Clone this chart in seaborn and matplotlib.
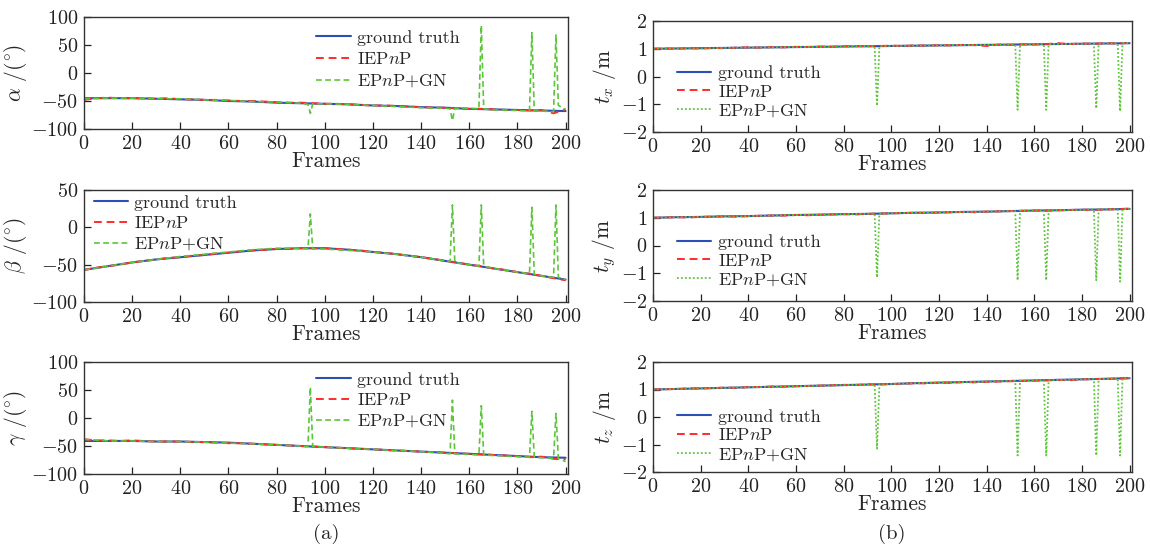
import matplotlib
matplotlib.use("Agg")
import matplotlib.pyplot as plt
import seaborn as sns

# ---------------- data ----------------
gt_frames = [0, 10, 20, 30, 40, 50, 60, 70, 80, 90, 100, 110, 120, 130, 140, 150, 160, 170, 180, 190, 200]
iep_frames = [0, 5, 10, 15, 20, 25, 30, 35, 40, 45, 50, 55, 60, 65, 70, 75, 80, 85, 90, 95, 100,
              105, 110, 115, 120, 125, 130, 135, 140, 145, 150, 155, 160, 165, 170, 175, 180, 185, 190, 195, 200]
gn_frames = [0, 10, 20, 30, 40, 50, 60, 70, 80, 90, 93, 94, 95, 100, 110, 120, 130, 140, 150,
             152, 153, 154, 160, 164, 165, 166, 170, 180, 185, 186, 187, 190, 195, 196, 197, 200]

alpha_gt = [-45, -45, -45, -46, -47, -48, -50, -51, -53, -54, -55, -56, -58, -59, -61, -62, -64, -65, -66, -67, -68]
alpha_iep = [-48, -45, -44, -45, -45, -45, -46, -45, -47, -47, -48, -48, -49, -50, -50, -51, -52, -53, -53, -54, -55,
             -55, -56, -57, -58, -58, -59, -60, -61, -62, -62, -63, -64, -64, -65, -66, -66, -67, -66, -72, -65]
alpha_gn = [-46, -45, -45, -46, -46, -48, -49, -51, -52, -54, -56, -72, -55, -55, -56, -58, -60, -62, -63,
            -64, -85, -63, -63, -64, 85, -64, -66, -67, -68, 72, -68, -68, -69, 68, -58, -65]

beta_gt = [-57, -52, -47, -43, -40, -37, -34, -31, -29, -28, -28, -30, -33, -36, -40, -45, -50, -55, -60, -65, -70]
beta_iep = [-57, -54, -52, -50, -47, -45, -43, -41, -40, -38, -37, -35, -34, -32, -31, -30, -29, -29, -28, -28, -28,
            -29, -30, -31, -33, -34, -36, -38, -40, -42, -45, -47, -50, -52, -55, -57, -60, -62, -65, -68, -71]
beta_gn = [-57, -52, -47, -43, -39, -36, -33, -30, -28, -28, -29, 18, -29, -29, -31, -33, -36, -40, -45,
           -46, 30, -47, -50, -52, 30, -52, -55, -60, -62, 27, -63, -65, -67, 30, -67, -70]

gamma_gt = [-41, -41, -41, -42, -42, -43, -44, -46, -48, -50, -52, -54, -56, -58, -60, -62, -64, -66, -68, -70, -71]
gamma_iep = [-38, -40, -40, -41, -40, -41, -42, -42, -42, -43, -43, -44, -45, -45, -46, -47, -48, -49, -50, -51, -52,
             -53, -54, -55, -56, -57, -58, -59, -60, -61, -62, -63, -64, -65, -66, -67, -68, -70, -69, -73, -74]
gamma_gn = [-38, -41, -41, -42, -42, -43, -45, -46, -48, -50, -51, 55, -51, -52, -54, -56, -58, -60, -63,
            -64, 32, -64, -65, -66, 22, -66, -67, -69, -70, 12, -70, -71, -72, 8, -72, -78]

tx_gt = [1.00, 1.01, 1.02, 1.03, 1.04, 1.05, 1.06, 1.07, 1.08, 1.09, 1.10, 1.11, 1.12, 1.13, 1.14, 1.15, 1.16, 1.17, 1.18, 1.19, 1.20]
tx_iep = [1.00, 1.01, 1.00, 1.02, 1.01, 1.03, 1.02, 1.04, 1.05, 1.04, 1.06, 1.05, 1.07, 1.06, 1.08, 1.07, 1.09, 1.10, 1.09, 1.10, 1.11,
          1.10, 1.12, 1.11, 1.13, 1.12, 1.14, 1.13, 1.10, 1.15, 1.14, 1.16, 1.15, 1.17, 1.20, 1.17, 1.19, 1.18, 1.20, 1.19, 1.21]
tx_gn = [1.00, 1.02, 1.01, 1.03, 1.04, 1.05, 1.06, 1.07, 1.08, 1.09, 1.09, -1.05, 1.09, 1.10, 1.11, 1.12, 1.13, 1.14, 1.15,
         1.15, -1.20, 1.15, 1.16, 1.16, -1.20, 1.17, 1.17, 1.18, 1.19, -1.15, 1.19, 1.19, 1.20, -1.25, 1.20, 1.21]

ty_gt = [1.00, 1.02, 1.03, 1.05, 1.06, 1.08, 1.10, 1.11, 1.13, 1.14, 1.16, 1.18, 1.19, 1.21, 1.22, 1.24, 1.26, 1.27, 1.29, 1.30, 1.32]
ty_iep = [1.00, 1.01, 1.02, 1.01, 1.03, 1.04, 1.05, 1.04, 1.06, 1.07, 1.08, 1.08, 1.10, 1.09, 1.11, 1.12, 1.13, 1.12, 1.14, 1.15, 1.16,
          1.17, 1.18, 1.17, 1.19, 1.20, 1.21, 1.20, 1.22, 1.23, 1.24, 1.25, 1.26, 1.25, 1.27, 1.28, 1.29, 1.28, 1.30, 1.31, 1.33]
ty_gn = [1.00, 1.02, 1.03, 1.05, 1.06, 1.08, 1.10, 1.11, 1.13, 1.14, 1.15, -1.15, 1.15, 1.16, 1.18, 1.19, 1.21, 1.22, 1.24,
         1.24, -1.25, 1.25, 1.26, 1.26, -1.25, 1.27, 1.27, 1.29, 1.30, -1.25, 1.30, 1.30, 1.31, -1.30, 1.31, 1.32]

tz_gt = [1.00, 1.02, 1.04, 1.06, 1.08, 1.10, 1.12, 1.14, 1.16, 1.18, 1.20, 1.23, 1.25, 1.27, 1.29, 1.31, 1.33, 1.35, 1.37, 1.39, 1.41]
tz_iep = [1.00, 1.01, 1.02, 1.04, 1.04, 1.05, 1.07, 1.06, 1.09, 1.09, 1.11, 1.10, 1.12, 1.13, 1.14, 1.15, 1.17, 1.16, 1.19, 1.18, 1.20,
          1.21, 1.23, 1.22, 1.25, 1.24, 1.27, 1.26, 1.28, 1.29, 1.30, 1.31, 1.32, 1.33, 1.35, 1.34, 1.37, 1.38, 1.38, 1.40, 1.41]
tz_gn = [1.00, 1.02, 1.04, 1.06, 1.08, 1.10, 1.12, 1.14, 1.16, 1.18, 1.19, -1.15, 1.19, 1.20, 1.23, 1.25, 1.27, 1.29, 1.31,
         1.31, -1.40, 1.32, 1.33, 1.34, -1.40, 1.34, 1.35, 1.37, 1.38, -1.40, 1.38, 1.39, 1.40, -1.40, 1.40, 1.41]

series_labels = ["ground truth", "IEP$n$P", "EP$n$P+GN"]
x_ticks = [0, 20, 40, 60, 80, 100, 120, 140, 160, 180, 200]

# ---------------- style ----------------
sns.set_style("ticks")
plt.rcParams["font.family"] = ["cmr10", "DejaVu Serif"]
plt.rcParams["mathtext.fontset"] = "cm"
plt.rcParams["axes.formatter.use_mathtext"] = True
plt.rcParams["axes.unicode_minus"] = True

C_GT = "#2b4fb5"
C_IEP = "#ff2b2b"
C_GN = "#5cc63a"

fig = plt.figure(figsize=(11.5, 5.51), dpi=100)

W, H = 1150.0, 551.0
def add_ax(left, top, right, bottom):
    return fig.add_axes([left / W, 1 - bottom / H, (right - left) / W, (bottom - top) / H])

left_cols = (84, 568)
right_cols = (653, 1132)
left_rows = [(17, 129), (190, 302), (362, 474)]
right_rows = [(21, 132), (190, 301), (362, 472)]

panels = [
    (left_cols, left_rows[0], alpha_gt, alpha_iep, alpha_gn, r"$\alpha$ /($^{\circ}$)", (-100, 100), [-100, -50, 0, 50, 100], (0.48, 0.62), "--", 0.3),
    (left_cols, left_rows[1], beta_gt, beta_iep, beta_gn, r"$\beta$ /($^{\circ}$)", (-100, 50), [-100, -50, 0, 50], (0.02, 0.70), "--", 0.25),
    (left_cols, left_rows[2], gamma_gt, gamma_iep, gamma_gn, r"$\gamma$ /($^{\circ}$)", (-100, 100), [-100, -50, 0, 50, 100], (0.48, 0.655), "--", 0.25),
    (right_cols, right_rows[0], tx_gt, tx_iep, tx_gn, r"$t_x$ /m", (-2, 2), [-2, -1, 0, 1, 2], (0.05, 0.36), ":", 0.15),
    (right_cols, right_rows[1], ty_gt, ty_iep, ty_gn, r"$t_y$ /m", (-2, 2), [-2, -1, 0, 1, 2], (0.05, 0.36), ":", 0.15),
    (right_cols, right_rows[2], tz_gt, tz_iep, tz_gn, r"$t_z$ /m", (-2, 2), [-2, -1, 0, 1, 2], (0.05, 0.33), ":", 0.15),
]

for cols, (top, bottom), gt, iep, gn, ylab, ylim, yticks, anchor, gnstyle, lspace in panels:
    ax = add_ax(cols[0], top, cols[1], bottom)
    sns.lineplot(x=gt_frames, y=gt, ax=ax, color=C_GT, lw=1.5, label=series_labels[0],
                 estimator=None, sort=False)
    sns.lineplot(x=iep_frames, y=iep, ax=ax, color=C_IEP, lw=1.4, linestyle=(0, (4, 2.5)),
                 label=series_labels[1], estimator=None, sort=False)
    if gnstyle == "--":
        sns.lineplot(x=gn_frames, y=gn, ax=ax, color=C_GN, lw=1.2, linestyle=(0, (3.5, 2)),
                     label=series_labels[2], estimator=None, sort=False)
    else:
        sns.lineplot(x=gn_frames, y=gn, ax=ax, color=C_GN, lw=1.3, linestyle=(0, (1, 1.2)),
                     label=series_labels[2], estimator=None, sort=False)
    ax.set_xlim(0, 201)
    ax.set_ylim(*ylim)
    ax.set_xticks(x_ticks)
    ax.set_yticks(yticks)
    ax.tick_params(direction="in", length=5, width=0.9, labelsize=14.5, colors="#222222",
                   top=False, right=False, pad=4)
    for s in ax.spines.values():
        s.set_color("#333333")
        s.set_linewidth(1.0)
        s.set_visible(True)
    ax.set_xlabel("Frames", fontsize=15.5, labelpad=-1)
    ax.set_ylabel(ylab, fontsize=15.5, labelpad=2)
    ax.legend(loc="center left", bbox_to_anchor=anchor, frameon=False, fontsize=13,
              handlelength=1.9, handletextpad=0.35, labelspacing=lspace, borderaxespad=0,
              borderpad=0)

fig.text(326 / W, 1 - 534 / H, "(a)", ha="center", va="center", fontsize=15)
fig.text(892 / W, 1 - 534 / H, "(b)", ha="center", va="center", fontsize=15)

fig.savefig("out.png", dpi=100)
